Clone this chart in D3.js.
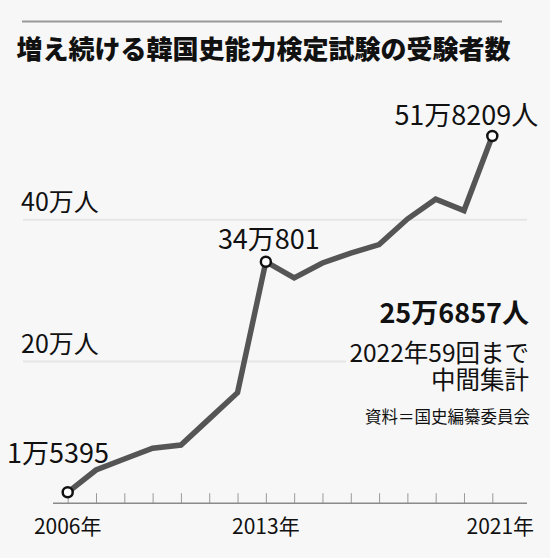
<!DOCTYPE html>
<html>
<head>
<meta charset="utf-8">
<script src="https://cdn.jsdelivr.net/npm/d3@7"></script>
<style>
  html, body { margin: 0; padding: 0; background: #f7f7f7; }
  svg { display: block; }
  text { font-family: "Noto Sans CJK JP", "Noto Sans", sans-serif; fill: #111; }
</style>
</head>
<body>
<svg id="chart" width="550" height="558"></svg>
<script>
// ---- data (万人) ----
const years = [2006, 2007, 2008, 2009, 2010, 2011, 2012, 2013, 2014, 2015, 2016, 2017, 2018, 2019, 2020, 2021];
const examinees = [1.5395, 4.69, 6.24, 7.75, 8.21, 11.9, 15.6, 34.0801, 31.8, 33.9, 35.3, 36.5, 40.1, 42.9, 41.3, 51.8209];
const gridValues = [20, 40];
const gridLabels = ["20万人", "40万人"];
const xTickLabels = [{ year: 2006, label: "2006年" }, { year: 2013, label: "2013年" }, { year: 2021, label: "2021年" }];
const highlights = [
  { year: 2006, value: 1.5395, label: "1万5395" },
  { year: 2013, value: 34.0801, label: "34万801" },
  { year: 2021, value: 51.8209, label: "51万8209人" }
];
const titleText = "増え続ける韓国史能力検定試験の受験者数";
const noteBold = "25万6857人";
const noteLines = ["2022年59回まで", "中間集計"];
const sourceText = "資料＝国史編纂委員会";

const svg = d3.select("#chart");
const W = 550, H = 558, bg = "#f7f7f7";

svg.append("rect").attr("width", W).attr("height", H).attr("fill", bg);

const x = d3.scaleLinear().domain([2006, 2021]).range([67.7, 492.3]);
const y = d3.scaleLinear().domain([0, 50]).range([503.2, 148.9]);

// top rule
svg.append("line").attr("x1", 22).attr("x2", 502).attr("y1", 21.5).attr("y2", 21.5)
  .attr("stroke", "#9a9a9a").attr("stroke-width", 2);

// title
svg.append("text").attr("x", 263.5).attr("y", 59).attr("text-anchor", "middle")
  .attr("font-size", 26).attr("font-weight", 900).attr("fill", "#1a1a1a").text(titleText);

// gridlines
svg.append("g").selectAll("line").data(gridValues).join("line")
  .attr("x1", 23).attr("x2", 527)
  .attr("y1", d => y(d)).attr("y2", d => y(d))
  .attr("stroke", "#e6e6e6").attr("stroke-width", 2);

svg.append("g").selectAll("text").data(gridValues).join("text")
  .attr("x", 21).attr("y", d => y(d) - 8.5)
  .attr("font-size", 25).text((d, i) => gridLabels[i]);

// x axis
const xAxis = d3.axisTop(x).tickValues(years).tickSize(10).tickFormat("");
const gx = svg.append("g").attr("transform", `translate(0,${y(0)})`).call(xAxis);
gx.select(".domain").remove();
gx.selectAll(".tick line").attr("stroke", "#9a9a9a").attr("stroke-width", 1);
svg.append("line").attr("x1", 53).attr("x2", 527).attr("y1", y(0)).attr("y2", y(0))
  .attr("stroke", "#8a8a8a").attr("stroke-width", 1.5);

svg.append("g").selectAll("text").data(xTickLabels).join("text")
  .attr("x", d => x(d.year) + (d.year === 2021 ? 8 : 0))
  .attr("y", 534).attr("text-anchor", "middle").attr("font-size", 21)
  .text(d => d.label);

// note box (covers gridline)
svg.append("rect").attr("x", 346).attr("y", 296).attr("width", 190).attr("height", 134).attr("fill", bg);
svg.append("text").attr("x", 529).attr("y", 323).attr("text-anchor", "end")
  .attr("font-size", 27).attr("font-weight", "bold").text(noteBold);
const note = svg.append("text").attr("x", 529).attr("y", 361.5).attr("text-anchor", "end")
  .attr("font-size", 24.5);
note.selectAll("tspan").data(noteLines).join("tspan")
  .attr("x", 529).attr("dy", (d, i) => i === 0 ? 0 : 27).text(d => d);
svg.append("text").attr("x", 530).attr("y", 423).attr("text-anchor", "end")
  .attr("font-size", 16.5).attr("fill", "#222").text(sourceText);

// line
const pts = years.map((yr, i) => [yr, examinees[i]]);
svg.append("path").datum(pts)
  .attr("fill", "none").attr("stroke", "#555").attr("stroke-width", 5.5)
  .attr("stroke-linejoin", "miter").attr("stroke-linecap", "butt")
  .attr("d", d3.line().x(d => x(d[0])).y(d => y(d[1])));

// highlight circles
svg.append("g").selectAll("circle").data(highlights).join("circle")
  .attr("cx", d => x(d.year)).attr("cy", d => y(d.value)).attr("r", 5)
  .attr("fill", "#fff").attr("stroke", "#111").attr("stroke-width", 2.5);

// highlight labels
const labelPos = {
  2006: { dx: -60.7, dy: -29.5, anchor: "start" },
  2013: { dx: 3, dy: -12.5, anchor: "middle" },
  2021: { dx: 46, dy: -11, anchor: "end" }
};
svg.append("g").selectAll("text").data(highlights).join("text")
  .attr("x", d => x(d.year) + labelPos[d.year].dx)
  .attr("y", d => y(d.value) + labelPos[d.year].dy)
  .attr("text-anchor", d => labelPos[d.year].anchor)
  .attr("font-size", 27).text(d => d.label);
</script>
</body>
</html>
